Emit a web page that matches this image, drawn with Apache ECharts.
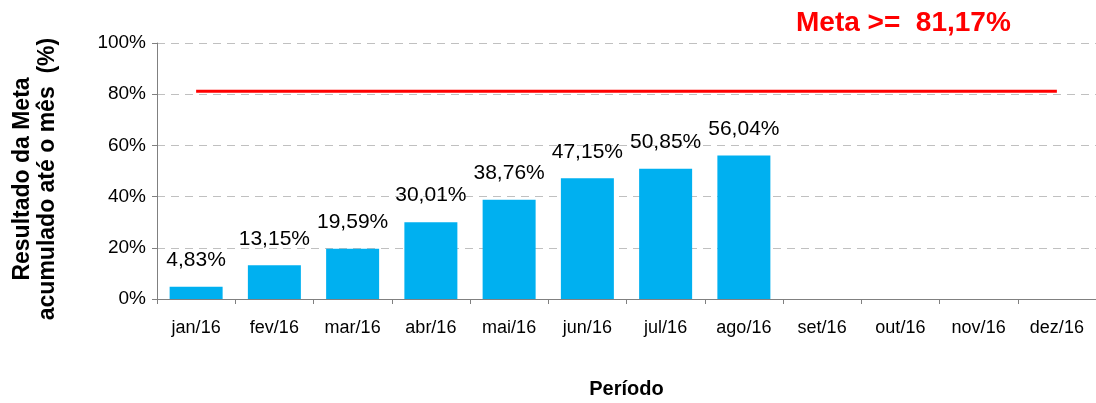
<!DOCTYPE html>
<html>
<head>
<meta charset="utf-8">
<script src="https://cdn.jsdelivr.net/npm/echarts@6/dist/echarts.min.js"></script>
<style>
  html, body { margin: 0; padding: 0; background: #fff; }
  #main { width: 1096px; height: 403px; }
</style>
</head>
<body>
<div id="main"></div>
<script>
var meses = ['jan/16', 'fev/16', 'mar/16', 'abr/16', 'mai/16', 'jun/16', 'jul/16', 'ago/16', 'set/16', 'out/16', 'nov/16', 'dez/16'];
var resultado = [4.83, 13.15, 19.59, 30.01, 38.76, 47.15, 50.85, 56.04, null, null, null, null];
var meta = [81.17, 81.17, 81.17, 81.17, 81.17, 81.17, 81.17, 81.17, 81.17, 81.17, 81.17, 81.17];
var metaTexto = 'Meta >=  81,17%';

function pct(v) {
    return v.toFixed(2).replace('.', ',') + '%';
}

var chart = echarts.init(document.getElementById('main'));
chart.setOption({
    animation: false,
    textStyle: { fontFamily: 'Liberation Sans, Arial, sans-serif' },
    title: {
        text: metaTexto,
        left: 791,
        top: 4,
        textStyle: { color: '#ff0000', fontSize: 28, fontWeight: 'bold', fontFamily: 'Liberation Sans, Arial, sans-serif' }
    },
    grid: { left: 157, right: 0, top: 43, bottom: 104, containLabel: false, outerBoundsMode: 'none' },
    xAxis: {
        type: 'category',
        data: meses,
        name: 'Período',
        nameLocation: 'middle',
        nameGap: 80,
        nameTextStyle: { color: '#000', fontSize: 20, fontWeight: 'bold' },
        axisLine: { lineStyle: { color: '#808080', width: 1 } },
        axisTick: { show: true, alignWithLabel: false, length: 5, lineStyle: { color: '#808080' } },
        axisLabel: { color: '#000', fontSize: 18, margin: 20 }
    },
    yAxis: {
        type: 'value',
        min: 0,
        max: 100,
        interval: 20,
        name: 'Resultado da Meta\nacumulado até o mês  (%)',
        nameLocation: 'middle',
        nameRotate: 90,
        nameGap: 97,
        nameTextStyle: { color: '#000', fontSize: 23, fontWeight: 'bold', lineHeight: 25, padding: [0, 16, 0, 0] },
        axisLine: { show: true, lineStyle: { color: '#808080', width: 1 } },
        axisTick: { show: true, length: 5, lineStyle: { color: '#808080' } },
        axisLabel: { color: '#000', fontSize: 19, margin: 11, formatter: '{value}%' },
        splitLine: { lineStyle: { color: '#c0c0c0', type: [8, 6], width: 1 } }
    },
    series: [
        {
            type: 'bar',
            data: resultado,
            barWidth: 53,
            itemStyle: { color: '#00b0f0' },
            label: {
                show: true,
                position: 'top',
                distance: 16,
                color: '#000',
                fontSize: 21,
                formatter: function (p) { return pct(p.value); }
            }
        },
        {
            type: 'line',
            data: meta,
            symbol: 'none',
            lineStyle: { color: '#ff0000', width: 3 },
            z: 5
        }
    ]
});
</script>
</body>
</html>
